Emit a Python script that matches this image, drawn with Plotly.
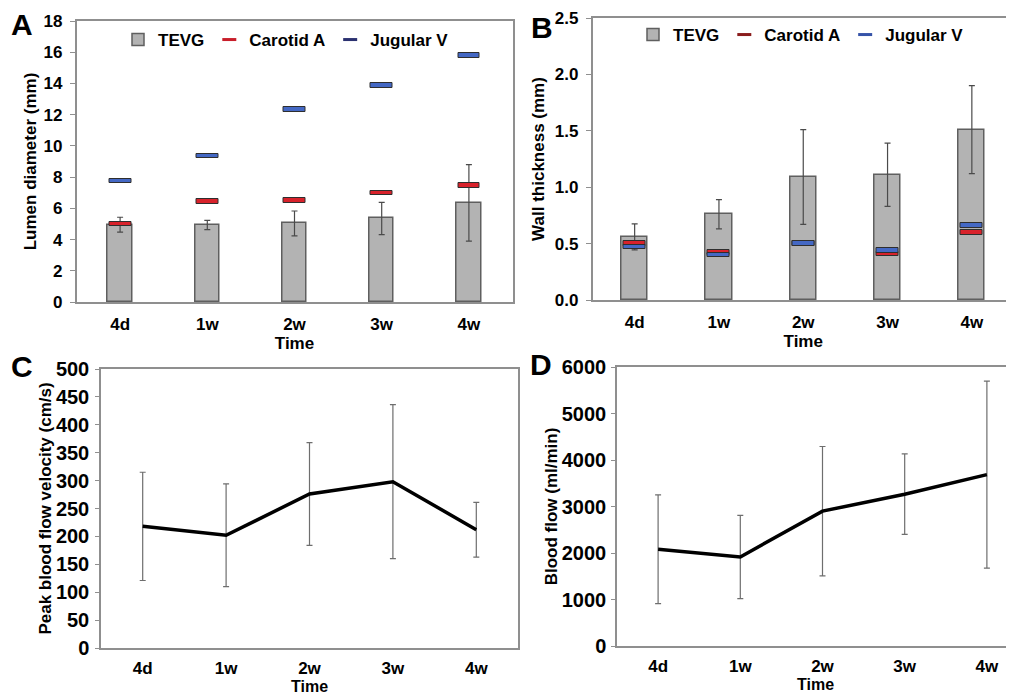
import plotly.graph_objects as go

categories = ["4d", "1w", "2w", "3w", "4w"]

# Panel A: lumen diameter (mm)
lumen_tevg = [4.95, 4.93, 5.03, 5.35, 6.35]
lumen_tevg_sd = [0.48, 0.30, 0.80, 1.03, 2.45]
lumen_carotid = [4.99, 6.44, 6.52, 6.99, 7.46]
lumen_jugular = [7.76, 9.36, 12.32, 13.86, 15.78]

# Panel B: wall thickness (mm)
wall_tevg = [0.56, 0.76, 1.09, 1.11, 1.51]
wall_tevg_sd = [0.115, 0.13, 0.42, 0.28, 0.39]
wall_carotid = [0.50, 0.42, 0.50, 0.41, 0.60]
wall_jugular = [0.47, 0.40, 0.50, 0.44, 0.66]

# Panel C: peak blood flow velocity (cm/s)
velocity = [218, 202, 276, 298, 212]
velocity_sd = [97, 92, 92, 138, 49]

# Panel D: blood flow (ml/min)
flow = [2080, 1915, 2900, 3265, 3685]
flow_sd = [1170, 895, 1390, 865, 2010]

FONT = "Liberation Sans, Arial, sans-serif"
AXIS_GRAY = "#8f8f8f"
BAR_FILL = "#b3b3b3"
BAR_EDGE = "#5f5f5f"
RED = "#d8222b"
BLUE = "#4468c4"
MARK_EDGE = "#2e2e2e"
ERR_COLOR = "#4a4a4a"

MARK_H_A = 0.30   # marker rectangle thickness in data units (panel A)
MARK_H_B = 0.040  # marker rectangle thickness in data units (panel B)

fig = go.Figure()


def add_bar_panel(xa, ya, legend, tevg, sd, carotid, jugular, mh, bar_w, mark_w):
    fig.add_trace(go.Bar(
        x=categories, y=tevg, name="TEVG", width=bar_w,
        marker=dict(color=BAR_FILL, line=dict(color=BAR_EDGE, width=1.5)),
        error_y=dict(type="data", array=sd, color=ERR_COLOR, thickness=1.2, width=3),
        xaxis=xa, yaxis=ya, legend=legend, showlegend=True,
    ))
    for vals, col in ((carotid, RED), (jugular, BLUE)):
        fig.add_trace(go.Bar(
            x=categories, y=[mh] * len(vals), base=[v - mh / 2 for v in vals],
            width=mark_w,
            marker=dict(color=col, line=dict(color=MARK_EDGE, width=1)),
            xaxis=xa, yaxis=ya, showlegend=False, hoverinfo="skip",
        ))
    for name, col in (("Carotid A", "#c81e2a" if legend == "legend" else "#8a1c1c"),
                      ("Jugular V", "#2b3170" if legend == "legend" else "#3553a8")):
        fig.add_trace(go.Scatter(
            x=[None], y=[None], mode="markers", name=name,
            marker=dict(symbol="line-ew", size=10, line=dict(color=col, width=3)),
            xaxis=xa, yaxis=ya, legend=legend, showlegend=True,
        ))


add_bar_panel("x", "y", "legend", lumen_tevg, lumen_tevg_sd,
              lumen_carotid, lumen_jugular, MARK_H_A, 0.28, 0.25)
add_bar_panel("x2", "y2", "legend2", wall_tevg, wall_tevg_sd,
              wall_carotid, wall_jugular, MARK_H_B, 0.31, 0.26)

for xa, ya, vals, sd in (("x3", "y3", velocity, velocity_sd),
                         ("x4", "y4", flow, flow_sd)):
    fig.add_trace(go.Scatter(
        x=categories, y=vals, mode="lines",
        line=dict(color="black", width=3.5),
        error_y=dict(type="data", array=sd, color="#6e6e6e", thickness=1.2, width=3),
        xaxis=xa, yaxis=ya, showlegend=False,
    ))

tick_font = dict(family=FONT, size=17, color="black", weight="bold")
tick_font_big = dict(family=FONT, size=20, color="black", weight="bold")
title_font = dict(family=FONT, size=17, color="black", weight="bold")
title_font_low = dict(family=FONT, size=16, color="black", weight="bold")


def xaxis(domain, anchor, rng, lblstand=6, tfont=title_font):
    return dict(
        domain=domain, anchor=anchor, type="category", range=rng,
        showline=True, linecolor=AXIS_GRAY, linewidth=1.5, mirror=True,
        ticks="", showgrid=False, zeroline=False, automargin=False,
        tickfont=tick_font, ticklabelstandoff=lblstand,
        title=dict(text="Time", font=tfont, standoff=1),
    )


def yaxis(domain, anchor, rng, dtick, title, tfont, standoff, lblstand, ticklen=5,
          fmt=None, mirror=True):
    d = dict(
        domain=domain, anchor=anchor, range=rng, dtick=dtick, tick0=0,
        showline=True, linecolor=AXIS_GRAY, linewidth=1.5, mirror=mirror,
        ticks="outside", ticklen=ticklen, tickcolor=AXIS_GRAY, tickwidth=1.2,
        showgrid=False, zeroline=False, automargin=False,
        tickfont=tfont, ticklabelstandoff=lblstand,
        title=dict(text=title, font=title_font, standoff=standoff),
    )
    if fmt:
        d["tickformat"] = fmt
    return d


# The page body has an 8px margin, so the figure is drawn 8px in from the
# window's top-left corner; positions below are window pixels.
OFF = 8
W, H = 1014 - OFF, 697 - OFF


def fx(px):
    return min(1.0, (px - OFF) / W)


def fy(py):
    return 1 - (py - OFF) / H


legend_common = dict(
    orientation="h", xanchor="center", yanchor="middle",
    font=dict(family=FONT, size=17, color="black", weight="bold"),
    bgcolor="rgba(0,0,0,0)", itemwidth=30, traceorder="normal",
)

fig.update_layout(
    width=W, height=H,
    margin=dict(l=0, r=0, t=0, b=0, pad=0, autoexpand=False),
    paper_bgcolor="white", plot_bgcolor="white",
    barmode="overlay", bargap=0,
    font=dict(family=FONT, color="black"),
    xaxis=xaxis([fx(76.5), fx(512.5)], "y", [-0.5, 4.5]),
    yaxis=yaxis([fy(302), fy(21)], "x", [0, 18], 2, "Lumen diameter (mm)",
                tick_font, 2, 4),
    xaxis2=xaxis([fx(592.5), 1.0], "y2", [-0.5, 4.5]),
    yaxis2=yaxis([fy(300), fy(18)], "x2", [0, 2.5], 0.5, "Wall thickness (mm)",
                 tick_font, 6, 4, fmt=".1f", mirror=False),
    xaxis3=xaxis([fx(101), fx(518)], "y3", [-0.5, 4.5], 4, title_font_low),
    yaxis3=yaxis([fy(648), fy(369)], "x3", [0, 500], 50,
                 "Peak blood flow velocity (cm/s)", tick_font_big, 0, 2, ticklen=4),
    xaxis4=xaxis([fx(617), 1.0], "y4", [-0.5, 4.5 - (1028 - 1014) / 82.25],
                 4, title_font_low),
    yaxis4=yaxis([fy(646), fy(367)], "x4", [0, 6000], 1000, "Blood flow (ml/min)",
                 tick_font_big, 0, 1, ticklen=4, mirror=False),
    legend=dict(x=fx(286), y=fy(40), **legend_common),
    legend2=dict(x=fx(801), y=fy(35), **legend_common),
)

for letter, px, py in (("A", 22, 25), ("B", 542, 27), ("C", 22, 366), ("D", 541, 364)):
    fig.add_annotation(
        text=letter, x=fx(px), y=fy(py), xref="paper", yref="paper",
        xanchor="center", yanchor="middle", showarrow=False,
        font=dict(family=FONT, size=30, color="black", weight="bold"),
    )

fig.write_html("out.html")
